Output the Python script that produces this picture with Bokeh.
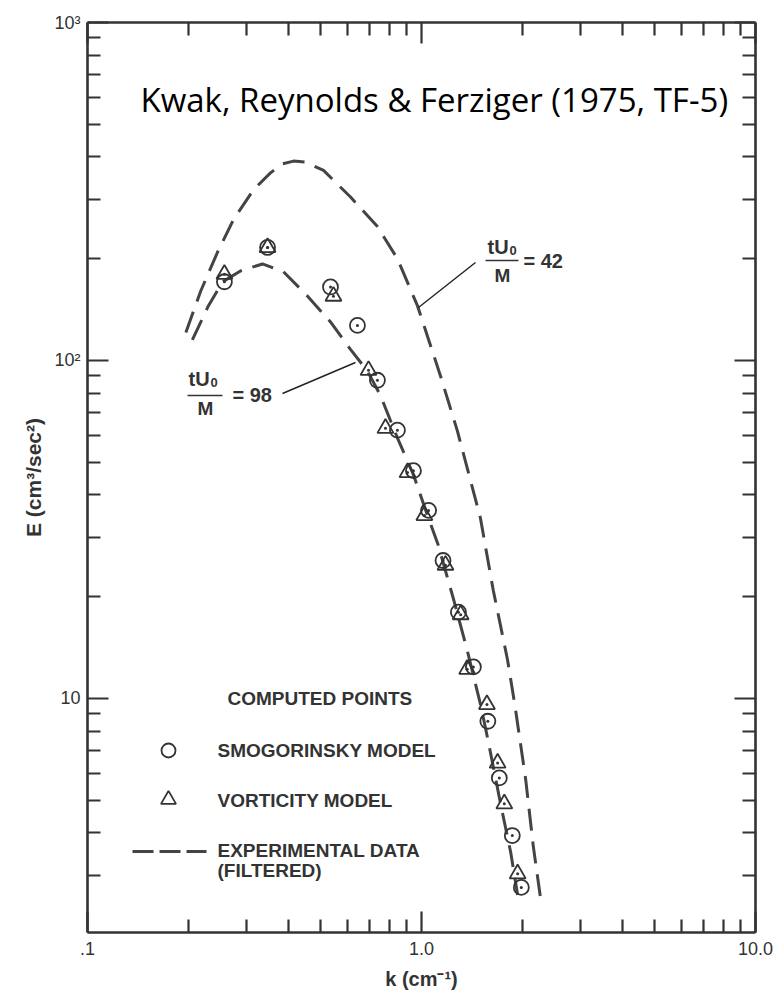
from bokeh.plotting import figure
from bokeh.models import FixedTicker, LogAxis, Label
from bokeh.embed import file_html
from bokeh.resources import INLINE
import math

# ---------------- data ----------------
# experimental spectrum, tU0/M = 42 (upper dashed curve)
k_exp42 = [0.197, 0.218, 0.245, 0.274, 0.314, 0.353, 0.384, 0.414, 0.450, 0.509,
           0.612, 0.738, 0.847, 0.973, 1.14, 1.28, 1.50, 1.64, 1.81, 1.91, 2.05,
           2.16, 2.27]
E_exp42 = [121, 160, 209, 262, 320, 359, 382, 389, 386, 365,
           305, 249, 200, 145, 90, 62, 34.3, 20.9, 13.0, 9.35, 5.78,
           3.67, 2.58]

# experimental spectrum, tU0/M = 98 (lower dashed curve)
k_exp98 = [0.206, 0.230, 0.254, 0.287, 0.334, 0.386, 0.456, 0.534, 0.612, 0.689,
           0.753, 0.847, 0.946, 1.04, 1.12, 1.25, 1.37, 1.50, 1.58, 1.73, 1.85, 1.94]
E_exp98 = [115, 145, 171, 184, 193, 183, 155, 130, 108, 93,
           78.9, 59.0, 45.9, 35.0, 28.6, 19.5, 13.9, 9.66, 7.57, 4.81, 3.50, 2.62]

# computed points, Smagorinsky model (circles)
k_smag = [0.257, 0.346, 0.534, 0.643, 0.738, 0.847, 0.946, 1.05, 1.16, 1.29,
          1.43, 1.58, 1.71, 1.87, 1.99]
E_smag = [171, 216, 165, 127, 87.4, 62.2, 47.2, 36.0, 25.6, 18.0,
          12.4, 8.56, 5.82, 3.93, 2.76]

# computed points, vorticity model (triangles)
k_vort = [0.257, 0.346, 0.545, 0.694, 0.780, 0.908, 1.02, 1.18, 1.31, 1.37,
          1.57, 1.69, 1.77, 1.94]
E_vort = [180, 216, 155, 93.5, 63.0, 46.6, 34.8, 24.8, 17.7, 12.2,
          9.6, 6.44, 4.88, 3.03]

x_major = [0.1, 1.0, 10.0]
x_major_labels = [".1", "1.0", "10.0"]
y_major = [10, 100, 1000]
y_major_labels = ["10", "10\u00b2", "10\u00b3"]

# ---------------- figure ----------------
X_RANGE = (0.1, 10.0)
Y_RANGE = (2.03, 1000.0)
FL, FT, FW, FH = 87, 22, 668, 910   # frame placement in the window

INK = "#333333"

p = figure(frame_width=FW, frame_height=FH,
           min_border_left=FL, min_border_right=778 - FL - FW,
           min_border_top=FT, min_border_bottom=991 - FT - FH,
           x_axis_type="log", y_axis_type="log",
           x_range=X_RANGE, y_range=Y_RANGE,
           output_backend="svg", toolbar_location=None,
           background_fill_color="white", border_fill_color="white")
p.xgrid.visible = False
p.ygrid.visible = False
p.outline_line_color = None


def P(xp, yp):
    """window pixel -> data coordinates (for annotation placement)"""
    lx0, lx1 = math.log10(X_RANGE[0]), math.log10(X_RANGE[1])
    ly0, ly1 = math.log10(Y_RANGE[0]), math.log10(Y_RANGE[1])
    x = 10 ** (lx0 + (xp - FL) / FW * (lx1 - lx0))
    y = 10 ** (ly1 - (yp - FT) / FH * (ly1 - ly0))
    return x, y


x_minor = [m * d for d in (0.1, 1.0) for m in range(2, 10)]
y_minor = [m * d for d in (1, 10, 100) for m in range(2, 10)]


def style_axis(ax):
    ax.axis_line_color = INK
    ax.axis_line_width = 2.6
    ax.major_tick_line_color = INK
    ax.minor_tick_line_color = INK
    ax.major_tick_line_width = 2.2
    ax.minor_tick_line_width = 2.2
    ax.major_tick_in = 21
    ax.major_tick_out = 0
    ax.minor_tick_in = 13
    ax.minor_tick_out = 0


xa = p.xaxis[0]
ya = p.yaxis[0]
xa.ticker = FixedTicker(ticks=x_major, minor_ticks=x_minor)
ya.ticker = FixedTicker(ticks=y_major, minor_ticks=y_minor)
style_axis(xa)
style_axis(ya)
xa.major_label_overrides = {v: s for v, s in zip(x_major, x_major_labels)}
ya.major_label_overrides = {v: s for v, s in zip(y_major, y_major_labels)}
for ax in (xa, ya):
    ax.major_label_text_font = "Liberation Sans"
    ax.major_label_text_font_size = "18px"
    ax.major_label_text_color = INK
    ax.axis_label_text_font = "Liberation Sans"
    ax.axis_label_text_font_style = "bold"
    ax.axis_label_text_color = INK
xa.major_label_standoff = 9
ya.major_label_standoff = 7
xa.axis_label = "k (cm\u207b\u00b9)"
ya.axis_label = "E (cm\u00b3/sec\u00b2)"
xa.axis_label_text_font_size = "20px"
ya.axis_label_text_font_size = "21px"
xa.axis_label_standoff = 10
ya.axis_label_standoff = 6

top = LogAxis(ticker=FixedTicker(ticks=x_major, minor_ticks=x_minor))
right = LogAxis(ticker=FixedTicker(ticks=y_major, minor_ticks=y_minor))
for ax, vals in ((top, x_major), (right, y_major)):
    style_axis(ax)
    ax.major_label_overrides = {v: "" for v in vals}
    ax.major_label_text_color = None
    ax.major_label_standoff = 0
p.add_layout(top, "above")
p.add_layout(right, "right")

# ---------------- curves and points ----------------
DASH_C = "#444444"
p.line(k_exp42, E_exp42, line_color=DASH_C, line_width=3, line_dash="22 11")
p.line(k_exp98, E_exp98, line_color=DASH_C, line_width=3, line_dash="22 11")

p.scatter(k_smag, E_smag, marker="circle", size=15, fill_color=None,
          line_color=INK, line_width=1.8)
p.scatter(k_smag, E_smag, marker="circle", size=3, fill_color=INK, line_color=None)
p.scatter(k_vort, E_vort, marker="triangle", size=16, fill_color=None,
          line_color=INK, line_width=1.8)
p.scatter(k_vort, E_vort, marker="circle", size=3, fill_color=INK, line_color=None)


# ---------------- annotations ----------------
def label(xp, yp, text, size="17px", font="Liberation Sans", style="bold",
          align="left", baseline="middle", color=INK):
    x, y = P(xp, yp)
    p.add_layout(Label(x=x, y=y, text=text, text_font=font,
                       text_font_size=size, text_font_style=style,
                       text_align=align, text_baseline=baseline,
                       text_color=color))


def seg(x0p, y0p, x1p, y1p, width=1.4, color="#222222", dash="solid"):
    a = P(x0p, y0p)
    b = P(x1p, y1p)
    p.segment(x0=[a[0]], y0=[a[1]], x1=[b[0]], y1=[b[1]],
              line_color=color, line_width=width, line_dash=dash)


# title
label(140, 99, "Kwak, Reynolds & Ferziger (1975, TF-5)", size="33px",
      font="Open Sans", style="normal", color="black")

# tU0/M = 42
label(487, 246, "tU", size="20px")
label(509, 250, "0", size="13px")
seg(485, 260, 518, 260, width=1.6, color=INK)
label(502, 275, "M", size="19px", align="center")
label(523, 260, "= 42", size="20px")
seg(475, 262, 418, 307)

# tU0/M = 98
label(188, 378, "tU", size="20px")
label(210, 382, "0", size="13px")
seg(187, 395, 222, 395, width=1.6, color=INK)
label(205, 408, "M", size="19px", align="center")
label(232, 394, "= 98", size="20px")
seg(282, 393, 355, 362)

# legend block
label(227, 698, "COMPUTED POINTS", size="19px")
lx, ly = P(168, 750)
p.scatter([lx], [ly], marker="circle", size=14, fill_color=None,
          line_color=INK, line_width=1.8)
label(217, 750, "SMOGORINSKY MODEL", size="19px")
lx, ly = P(168, 799)
p.scatter([lx], [ly], marker="triangle", size=15, fill_color=None,
          line_color=INK, line_width=1.8)
label(217, 800, "VORTICITY MODEL", size="19px")
seg(132, 851, 206, 851, width=3, color=DASH_C, dash="21 6")
label(217, 850, "EXPERIMENTAL DATA", size="19px")
label(217, 870, "(FILTERED)", size="19px")

open("out.html", "w").write(file_html(p, INLINE))
